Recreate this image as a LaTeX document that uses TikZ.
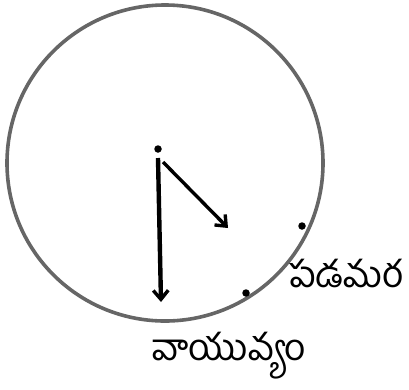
\documentclass[tikz,border=0pt]{standalone}
\usepackage{fontspec}
\newfontfamily\telugu[Script=Telugu]{Hind Guntur}
\usetikzlibrary{arrows.meta}
\begin{document}
\begin{tikzpicture}[x=1pt,y=-1pt,
  rim/.style={draw=black!60,line width=3.6pt},
  dotmark/.style={circle,fill=black,inner sep=0pt,minimum size=7.5pt},
  arr/.style={line width=4.4pt,-{Straight Barb[length=9pt,width=15pt,line width=3.4pt]}},
  lbl/.style={font=\telugu\fontsize{37}{40}\selectfont,inner sep=0pt}]
\useasboundingbox (0,0) rectangle (409,389);
\node[circle,rim,minimum size=316pt,inner sep=0pt] (rimc) at (165,163) {};
\node[dotmark] (ctr) at (158,149) {};
\coordinate (vs) at (158,158);
\coordinate (ve) at (161,302);
\coordinate (ds) at (163,162);
\coordinate (de) at (228,228);
\draw[arr] (vs) -- (ve);
\draw[arr,line width=3.4pt] (ds) -- (de);
\node[dotmark] (p1) at (302,226) {};
\node[dotmark] (p2) at (246,293) {};
\node[lbl] (west) at (346,274) {పడమర};
\node[lbl] (nw) at (229,356) {వాయువ్యం};
\end{tikzpicture}
\end{document}
